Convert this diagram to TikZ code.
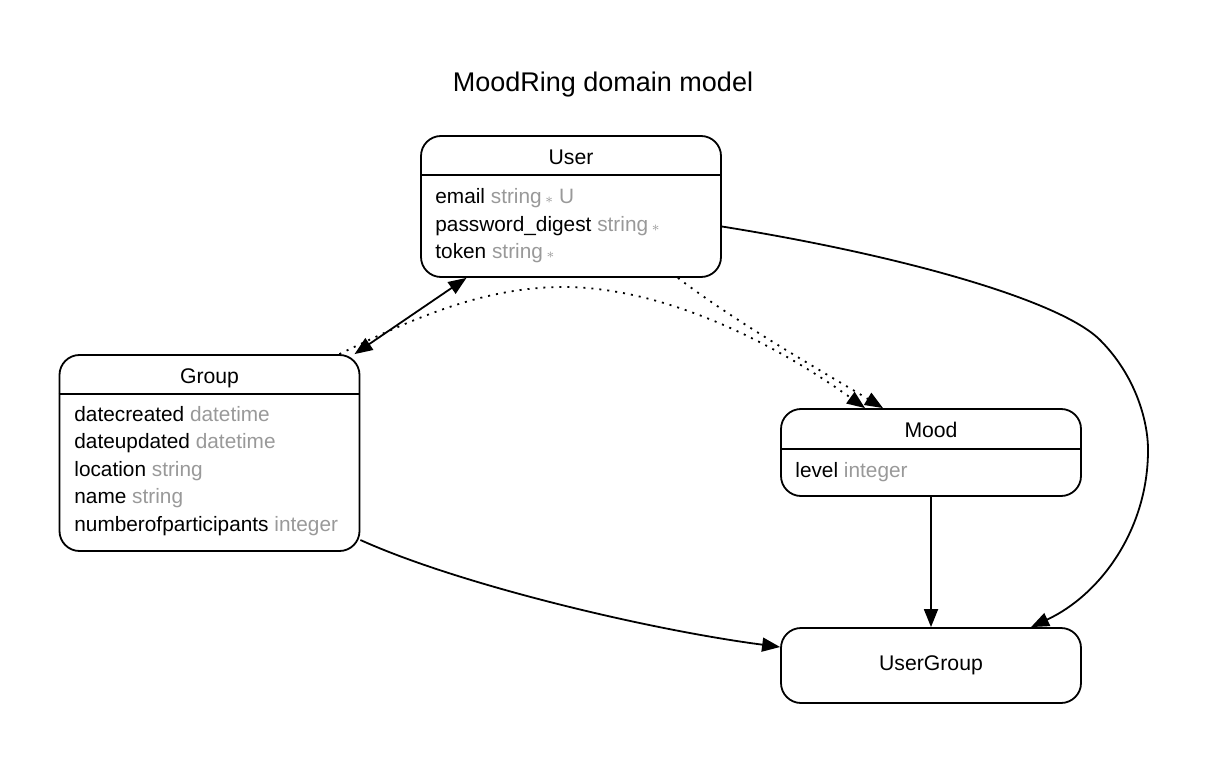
\documentclass[tikz,border=0pt]{standalone}
\usepackage{fontspec}
\setmainfont{Liberation Sans}
\usetikzlibrary{arrows.meta, positioning, shapes.misc}
\definecolor{ModelBlack}{HTML}{000000}
\definecolor{ModelGray}{HTML}{999999}
\colorlet{EntityLine}{ModelBlack}
\colorlet{AttrType}{ModelGray}
\newcommand{\reqmark}{\,{\scriptsize$\ast$}}

\begin{document}
\begin{tikzpicture}[x=0.5pt, y=-0.5pt,
    entity/.style={draw=EntityLine, rounded corners=10pt, line width=0.9pt, minimum width=150pt, inner sep=0pt, font=\fontsize{10.6}{12}\selectfont},
    header/.style={font=\fontsize{10.6}{12}\selectfont, anchor=base, inner sep=0pt},
    attr/.style={font=\fontsize{10.4}{12}\selectfont, anchor=base west, inner sep=0pt},
    rel/.style={line width=0.9pt, -{Triangle[length=9pt, width=7pt]}},
    twoway/.style={line width=0.9pt, {Triangle[length=9pt, width=7pt]}-{Triangle[length=9pt, width=7pt]}},
    lazy/.style={rel, dash pattern=on 1pt off 3pt}
]

    % Background
    \useasboundingbox (0,0) rectangle (1208,764);
    \node[font=\fontsize{13.5}{16}\selectfont, anchor=base, inner sep=0pt] (title) at (603,92) {MoodRing domain model};

    % User
    \node[entity, minimum height=70.5pt] (user) at (571,206.5) {};
    \node[header] (user head) at (571,164.5) {User};
    \draw[line width=0.9pt] (user.west |- 0,175) -- (user.east |- 0,175);
    \foreach \n/\t [count=\i] in {email/{string\reqmark\ U}, password\_digest/{string\reqmark}, token/{string\reqmark}}
        \node[attr] (user attr \i) at (435,{204+27.5*(\i-1)}) {\n\ \textcolor{AttrType}{\t}};

    % Group
    \node[entity, minimum height=98pt] (group) at (209.5,453) {};
    \node[header] (group head) at (209.5,383) {Group};
    \draw[line width=0.9pt] (group.west |- 0,394) -- (group.east |- 0,394);
    \foreach \n/\t [count=\i] in {datecreated/datetime, dateupdated/datetime, location/string, name/string, numberofparticipants/integer}
        \node[attr] (group attr \i) at (74,{421+27.5*(\i-1)}) {\n\ \textcolor{AttrType}{\t}};

    % Mood
    \node[entity, minimum height=43.5pt] (mood) at (931,452.5) {};
    \node[header] (mood head) at (931,437) {Mood};
    \draw[line width=0.9pt] (mood.west |- 0,449) -- (mood.east |- 0,449);
    \node[attr] (mood attr 1) at (795,477) {level \textcolor{AttrType}{integer}};

    % UserGroup
    \node[entity, minimum height=37.5pt] (usergroup) at (931,665.5) {UserGroup};

    % Relations
    \draw[twoway] (group) -- (user);
    \draw[lazy] ([xshift=-10.5pt]group.north east) .. controls (410,320) and (480,288) .. (560,287)
        .. controls (660,286) and (770,340) .. ([xshift=-33pt]mood.north);
    \draw[lazy] ([xshift=-22pt]user.south east) .. controls (740,325) and (820,370) .. ([xshift=-24pt]mood.north);
    \draw[rel] ([yshift=-10pt]user.east) .. controls (900,255) and (1060,300) .. (1100,340)
        .. controls (1135,375) and (1148,420) .. (1148,450)
        .. controls (1148,530) and (1100,595) .. ([xshift=50pt]usergroup.north);
    \draw[rel] (mood) -- (usergroup);
    \draw[rel] ([yshift=-43.5pt]group.east) .. controls (460,585) and (650,630) .. ([yshift=9.25pt]usergroup.west);

\end{tikzpicture}
\end{document}
